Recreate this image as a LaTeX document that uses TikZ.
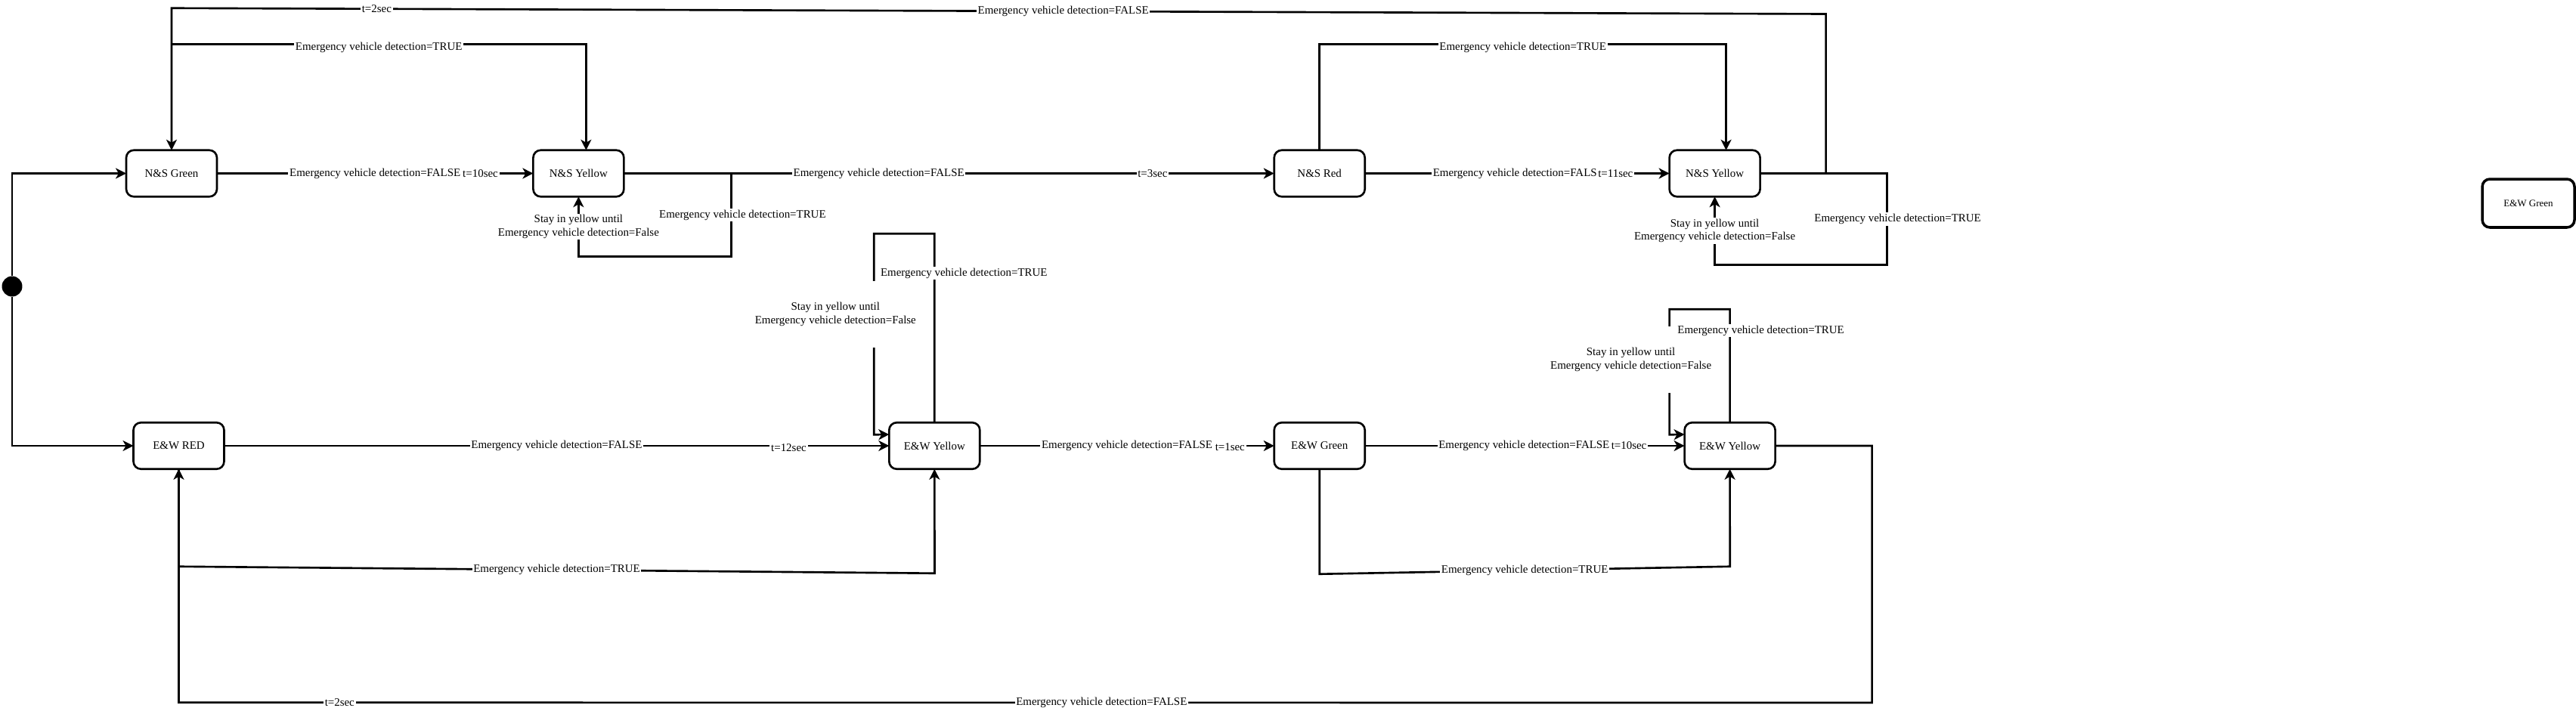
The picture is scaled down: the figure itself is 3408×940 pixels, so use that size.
\documentclass[tikz,border=0pt]{standalone}
\usepackage{fontspec}
\setmainfont{Liberation Serif}
\usetikzlibrary{arrows.meta, positioning, calc}

\begin{document}
\begin{tikzpicture}[
        x=0.02cm, y=-0.02cm,
        state/.style={draw=black, line width=1.5pt, fill=white, minimum width=2.4cm, minimum height=1.23cm, align=center, font=\fontsize{8.5}{10}\selectfont, rounded corners=0.2cm, inner sep=0pt, outer sep=0pt},
        trans/.style={-{Stealth[length=0.28cm, width=0.28cm, inset=0.08cm]}, black, line width=1.5pt},
        lbl/.style={font=\fontsize{8.5}{10}\selectfont, fill=white, inner sep=1pt, align=center},
        stay/.style={lbl, minimum height=1.76cm}
    ]
        \useasboundingbox (0,0) rectangle (3408,940);

        \node[circle, fill=black, minimum size=0.54cm, inner sep=0pt] (init) at (16,379) {};

        \node[state] (nsg) at (227,229.5) {N\&S Green};
        \node[state, right=8.37cm of nsg] (nsy) {N\&S Yellow};
        \node[state, right=17.21cm of nsy] (nsr) {N\&S Red};
        \node[state, right=8.06cm of nsr] (nsy2) {N\&S Yellow};

        \node[state] (ewr) at (236.5,590) {E\&W RED};
        \node[state, right=17.6cm of ewr] (ewy) {E\&W Yellow};
        \node[state, right=7.79cm of ewy] (ewg) {E\&W Green};
        \node[state, right=8.46cm of ewg] (ewy2) {E\&W Yellow};

        \node[state, line width=2pt, minimum width=2.44cm, minimum height=1.28cm, font=\fontsize{7.4}{9}\selectfont] (ewg0) at (3345,269) {E\&W Green};

        \draw[trans] (init.north) |- (nsg);
        \draw[trans] (init.south) |- (ewr);

        \draw[trans] (nsg) -- node[lbl]{Emergency vehicle detection=FALSE} node[lbl, pos=0.833]{t=10sec} (nsy);
        \draw[trans] (nsg.north) -- ++(0,-140) -| node[lbl, pos=0.25, yshift=-0.08cm]{Emergency vehicle detection=TRUE} ([xshift=0.2cm]nsy.north);
        \draw[trans] (nsy.east) -- ++(142,0) -- ++(0,110) -| node[lbl, pos=0.75]{Stay in yellow until\\Emergency vehicle detection=False} (nsy.south);
        \path (nsy.east) ++(142,0) -- node[lbl, xshift=0.3cm]{Emergency vehicle detection=TRUE} ++(0,110);
        \draw[trans] (nsy) -- node[lbl, pos=0.392]{Emergency vehicle detection=FALSE} node[lbl, pos=0.813]{t=3sec} (nsr);
        \draw[trans] (nsr.north) -- ++(0,-140) -| node[lbl, pos=0.25, yshift=-0.08cm]{Emergency vehicle detection=TRUE} ([xshift=0.3cm]nsy2.north);
        \draw[trans] (nsr) -- node[lbl, pos=0.504]{Emergency vehicle detection=FALSE} node[lbl, pos=0.823]{t=11sec} (nsy2);
        \draw[trans] (nsy2.east) -- ++(168,0) -- node[lbl, xshift=0.28cm]{Emergency vehicle detection=TRUE} ++(0,121) -| node[lbl, pos=0.75]{Stay in yellow until\\Emergency vehicle detection=False} (nsy2.south);
        \draw[trans] (nsy2.east) -- ++(87,0) -- ++(0,-211) -- node[lbl, pos=0.461]{Emergency vehicle detection=FALSE} node[lbl, pos=0.876]{t=2sec} ($(nsg.north)+(0,-188)$) -- (nsg.north);

        \draw[trans] (ewr) -- node[lbl]{Emergency vehicle detection=FALSE} node[lbl, pos=0.849, yshift=-0.06cm]{t=12sec} (ewy);
        \draw[trans] (ewr.south) -- ++(0,129) -- node[lbl]{Emergency vehicle detection=TRUE} ++(1000,9) -- (ewy.south);
        \draw[trans] (ewy.north) -- ++(0,-250) -- ++(-80,0) -- node[stay, pos=0.4, xshift=-1.02cm]{Stay in yellow until\\Emergency vehicle detection=False} ++(0,266) -- ([yshift=0.3cm]ewy.west);
        \path (ewy.north) -- node[lbl, pos=0.79, xshift=0.78cm]{Emergency vehicle detection=TRUE} ++(0,-250);
        \draw[trans] (ewy) -- node[lbl]{Emergency vehicle detection=FALSE} node[lbl, pos=0.85, yshift=-0.04cm]{t=1sec} (ewg);
        \draw[trans] (ewg) -- node[lbl, pos=0.498]{Emergency vehicle detection=FALSE} node[lbl, pos=0.826]{t=10sec} (ewy2);
        \draw[trans] (ewg.south) -- ++(0,139) -- node[lbl]{Emergency vehicle detection=TRUE} ++(543,-10) -- (ewy2.south);
        \draw[trans] (ewy2.north) -- ++(0,-150) -- ++(-80,0) -- node[stay, pos=0.4, xshift=-1.02cm]{Stay in yellow until\\Emergency vehicle detection=False} ++(0,166) -- ([yshift=0.3cm]ewy2.west);
        \path (ewy2.north) -- node[lbl, pos=0.81, xshift=0.82cm]{Emergency vehicle detection=TRUE} ++(0,-150);
        \draw[trans] (ewy2.east) -- ++(128,0) -- ++(0,340) -- node[lbl, pos=0.455]{Emergency vehicle detection=FALSE} node[lbl, pos=0.905]{t=2sec} ($(ewr.south)+(0,309)$) -- (ewr.south);
    \end{tikzpicture}
\end{document}
